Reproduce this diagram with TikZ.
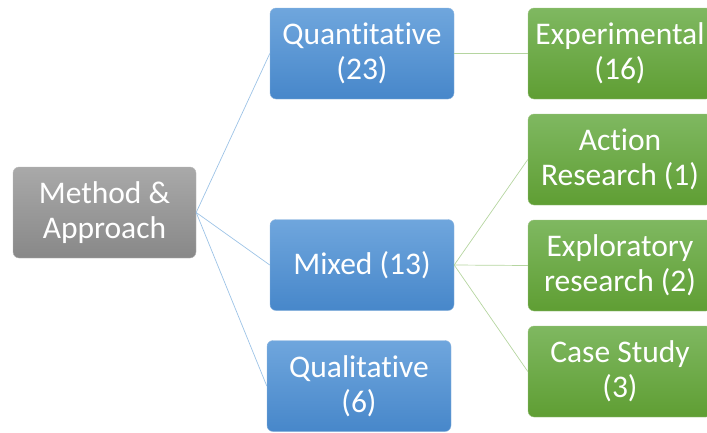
\documentclass[tikz,border=0pt]{standalone}
\usepackage{fontspec}
\setmainfont{Carlito}[Ligatures={NoCommon}]
\begin{document}
\begin{tikzpicture}[x=1pt,y=-1pt,
  box/.style={rounded corners=6pt, minimum width=184pt, minimum height=91pt,
    inner sep=0pt, align=center, text=white,
    font=\fontsize{31.5}{35}\selectfont},
  greybox/.style={box, top color=greytop, bottom color=greybot, draw=greybot!60!white, line width=0.4pt},
  bluebox/.style={box, top color=bluetop, bottom color=bluebot, draw=bluebot!60!white, line width=0.4pt},
  greenbox/.style={box, top color=greentop, bottom color=greenbot, draw=greenbot!60!white, line width=0.4pt},
  bluelink/.style={draw=bluelinkc, line width=0.7pt},
  greenlink/.style={draw=greenlinkc, line width=0.7pt}]
\definecolor{greytop}{HTML}{A9A9A9}
\definecolor{greybot}{HTML}{888888}
\definecolor{bluetop}{HTML}{6FA6DD}
\definecolor{bluebot}{HTML}{4787CA}
\definecolor{greentop}{HTML}{7FB861}
\definecolor{greenbot}{HTML}{5F9E33}
\definecolor{bluelinkc}{HTML}{9DC3E6}
\definecolor{greenlinkc}{HTML}{B5D5A0}
\useasboundingbox (0,0) rectangle (707,432);
\clip (0,0) rectangle (707,432);

% root
\node[greybox, minimum width=183pt] (root) at (104.5,212.5) {Method \&\\Approach};

% second level
\node[bluebox] (quant) at (362,53.5) {Quantitative\\(23)};
\node[bluebox] (mixed) at (362,265) {Mixed (13)};
\node[bluebox] (qual) at (359,386) {Qualitative\\(6)};

% third level
\node[greenbox] (exper) at (620,53.5) {Experimental\\(16)};
\node[greenbox] (action) at (620,159.5) {Action\\Research (1)};
\node[greenbox] (explor) at (620,265.5) {Exploratory\\research (2)};
\node[greenbox] (case) at (620,371.5) {Case Study\\(3)};

% connectors
\draw[bluelink] (root.east) -- (quant.west);
\draw[bluelink] (root.east) -- (mixed.west);
\draw[bluelink] (root.east) -- (qual.west);
\draw[greenlink] (quant.east) -- (exper.west);
\draw[greenlink] (mixed.east) -- (action.west);
\draw[greenlink] (mixed.east) -- (explor.west);
\draw[greenlink] (mixed.east) -- (case.west);
\end{tikzpicture}
\end{document}
